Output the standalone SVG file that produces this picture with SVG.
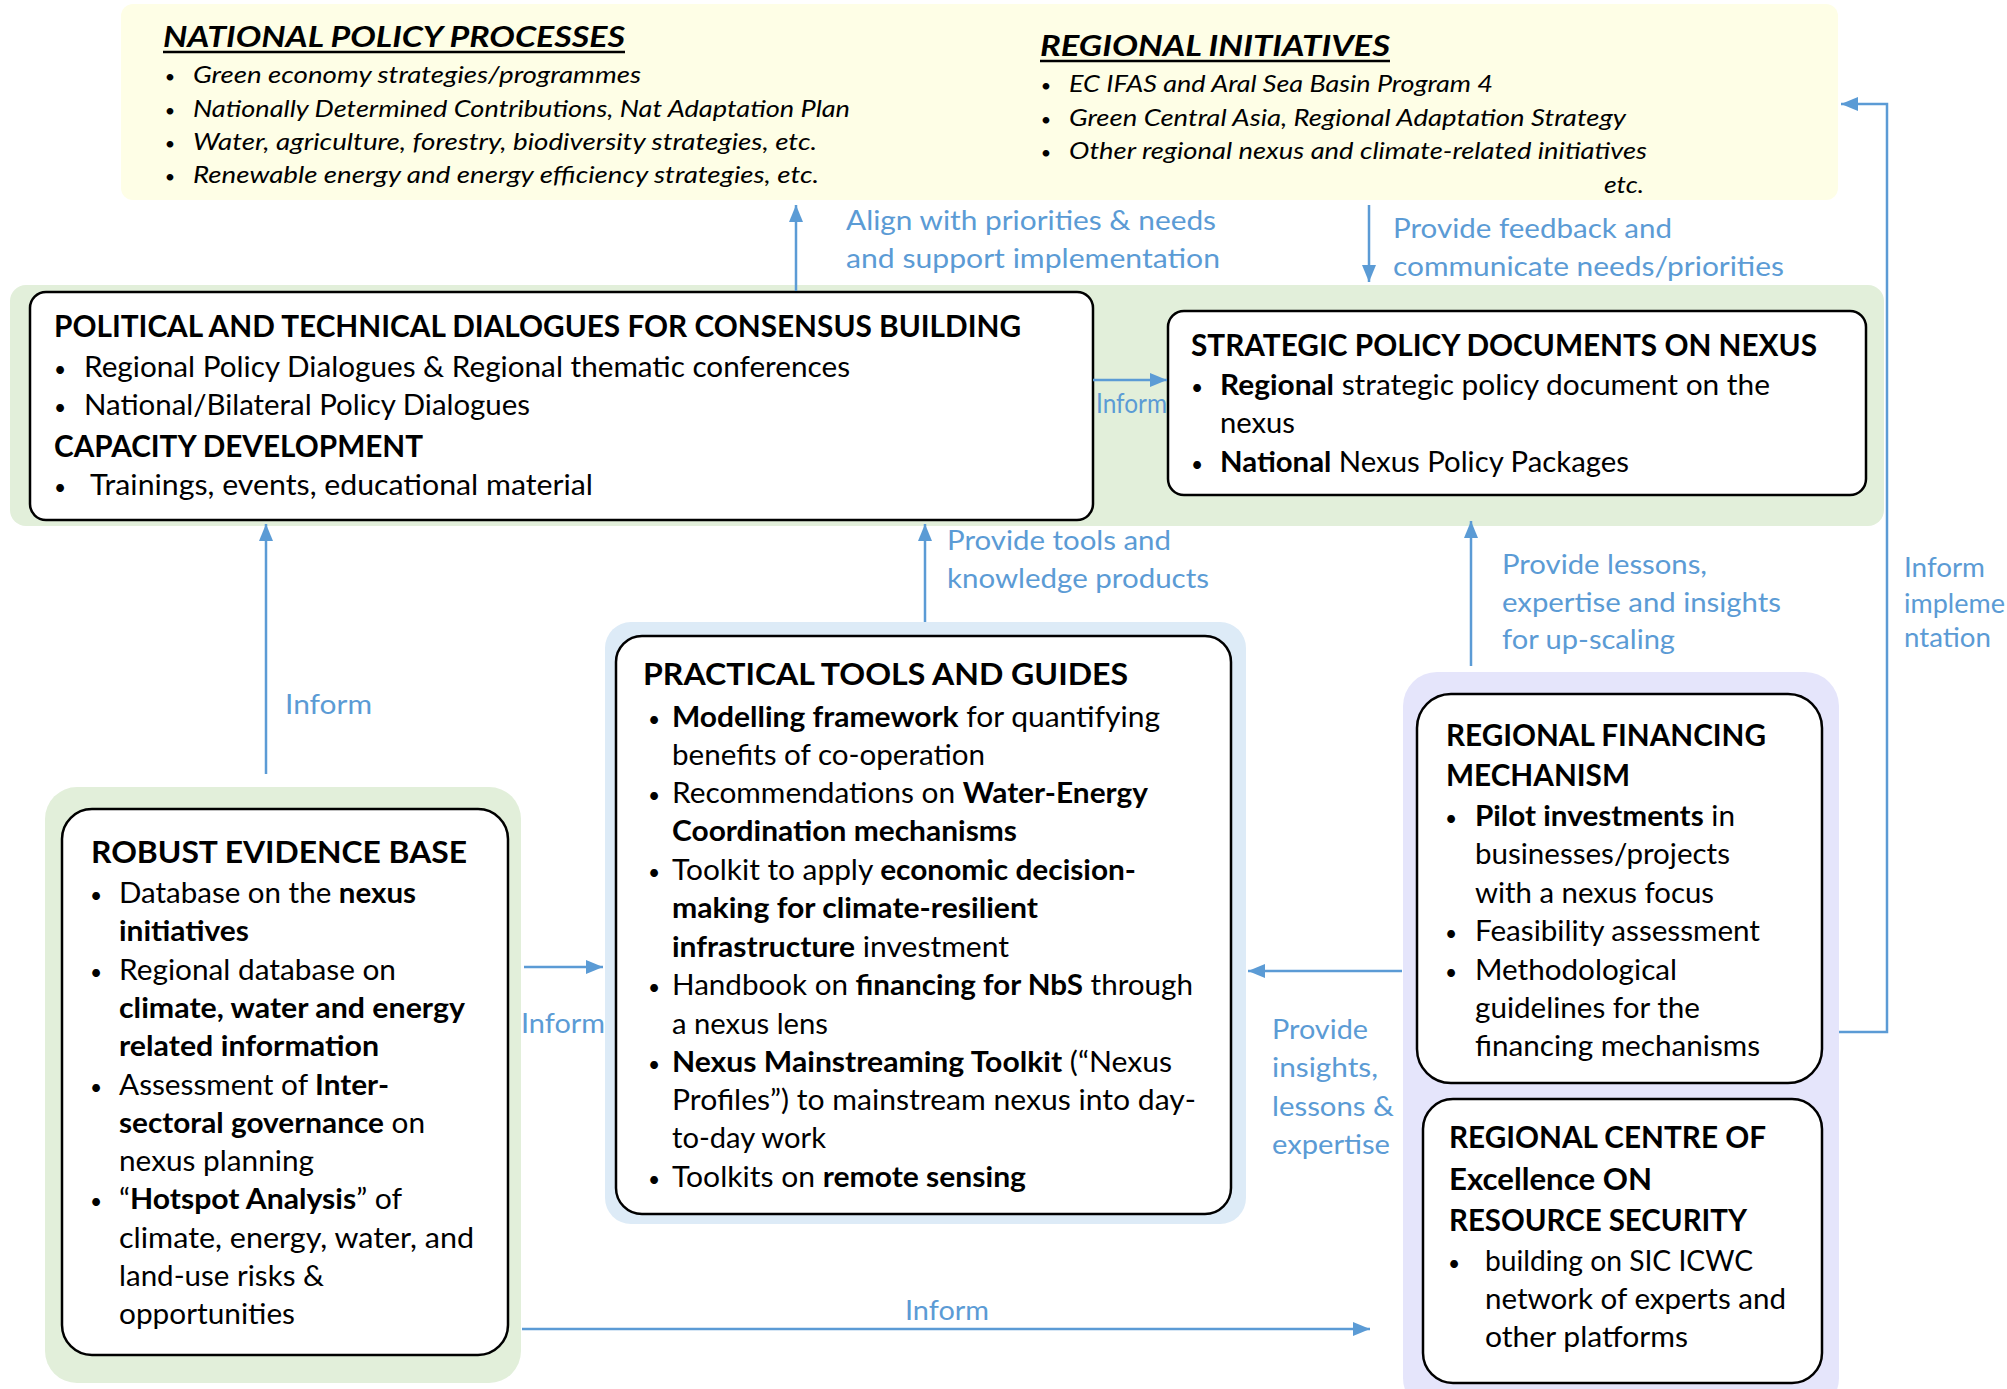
<svg xmlns="http://www.w3.org/2000/svg" width="2007" height="1389" viewBox="0 0 2007 1389">
<defs>
<style>
text{font-family:Lato,"Open Sans","Liberation Sans",sans-serif;fill:#000}
.box{fill:#fff;stroke:#000;stroke-width:2.5}
.body{font-size:28px}
.ttl{font-size:30px;font-weight:700}
.b{font-weight:700}
.yt{font-size:29px;font-weight:700;font-style:italic}
.yi{font-size:24px;font-style:italic}
.lbl{fill:#5B9BD5;font-size:27px}
.bul{text-anchor:middle;font-size:21px;font-style:normal}
.ybul{text-anchor:middle;font-size:18px}
.conn{stroke:#5B9BD5;stroke-width:2.5;fill:none;marker-end:url(#ah)}
.ul{stroke:#000;stroke-width:2.5}
</style>
<marker id="ah" markerUnits="userSpaceOnUse" markerWidth="18" markerHeight="14" refX="17" refY="7" orient="auto">
<path d="M0,0 L17,7 L0,14 z" fill="#5B9BD5"/>
</marker>
</defs>
<rect width="2007" height="1389" fill="#fff"/>

<g id="policy-context">
<rect x="121" y="4" width="1717" height="196" rx="12" fill="#FEFEE6"/>
<text class="yt" x="163" y="47" textLength="462" lengthAdjust="spacingAndGlyphs">NATIONAL POLICY PROCESSES</text>
<line class="ul" x1="163" y1="52" x2="625" y2="52"/>
<text class="ybul" x="170" y="83">•</text>
<text class="yi" x="193" y="83" textLength="448" lengthAdjust="spacingAndGlyphs">Green economy strategies/programmes</text>
<text class="ybul" x="170" y="117">•</text>
<text class="yi" x="193" y="117" textLength="657" lengthAdjust="spacingAndGlyphs">Nationally Determined Contributions, Nat Adaptation Plan</text>
<text class="ybul" x="170" y="150">•</text>
<text class="yi" x="193" y="150" textLength="624" lengthAdjust="spacingAndGlyphs">Water, agriculture, forestry, biodiversity strategies, etc.</text>
<text class="ybul" x="170" y="183">•</text>
<text class="yi" x="193" y="183" textLength="626" lengthAdjust="spacingAndGlyphs">Renewable energy and energy efficiency strategies, etc.</text>
<text class="yt" x="1040" y="56" textLength="350" lengthAdjust="spacingAndGlyphs">REGIONAL INITIATIVES</text>
<line class="ul" x1="1040" y1="61" x2="1390" y2="61"/>
<text class="ybul" x="1046" y="92">•</text>
<text class="yi" x="1069" y="92" textLength="424" lengthAdjust="spacingAndGlyphs">EC IFAS and Aral Sea Basin Program 4</text>
<text class="ybul" x="1046" y="126">•</text>
<text class="yi" x="1069" y="126" textLength="557" lengthAdjust="spacingAndGlyphs">Green Central Asia, Regional Adaptation Strategy</text>
<text class="ybul" x="1046" y="159">•</text>
<text class="yi" x="1069" y="159" textLength="578" lengthAdjust="spacingAndGlyphs">Other regional nexus and climate-related initiatives</text>
<text class="yi" x="1604" y="193" textLength="40" lengthAdjust="spacingAndGlyphs">etc.</text>
</g>

<g id="dialogue-band">
<rect x="10" y="285" width="1874" height="241" rx="16" fill="#E2EFDA"/>
</g>

<g id="political-dialogues">
<rect class="box" x="30" y="292" width="1063" height="228" rx="16"/>
<text class="ttl" x="54" y="337" textLength="967" lengthAdjust="spacingAndGlyphs">POLITICAL AND TECHNICAL DIALOGUES FOR CONSENSUS BUILDING</text>
<text class="bul" x="60" y="377">•</text>
<text class="body" x="84" y="377" textLength="766" lengthAdjust="spacingAndGlyphs">Regional Policy Dialogues &amp; Regional thematic conferences</text>
<text class="bul" x="60" y="415">•</text>
<text class="body" x="84" y="415" textLength="446" lengthAdjust="spacingAndGlyphs">National/Bilateral Policy Dialogues</text>
<text class="ttl" x="54" y="457" textLength="369" lengthAdjust="spacingAndGlyphs">CAPACITY DEVELOPMENT</text>
<text class="bul" x="60" y="495">•</text>
<text class="body" x="90" y="495" textLength="503" lengthAdjust="spacingAndGlyphs">Trainings, events, educational material</text>
</g>

<g id="strategic-documents">
<rect class="box" x="1168" y="311" width="698" height="184" rx="16"/>
<text class="ttl" x="1191" y="356" textLength="626" lengthAdjust="spacingAndGlyphs">STRATEGIC POLICY DOCUMENTS ON NEXUS</text>
<text class="bul" x="1197" y="395">•</text>
<text class="body" x="1220" y="395" textLength="550" lengthAdjust="spacingAndGlyphs"><tspan class="b">Regional</tspan> strategic policy document on the</text>
<text class="body" x="1220" y="433" textLength="75" lengthAdjust="spacingAndGlyphs">nexus</text>
<text class="bul" x="1197" y="472">•</text>
<text class="body" x="1220" y="472" textLength="409" lengthAdjust="spacingAndGlyphs"><tspan class="b">National</tspan> Nexus Policy Packages</text>
</g>

<g id="practical-tools">
<rect x="605" y="622" width="641" height="602" rx="26" fill="#DDEBF7"/>
<rect class="box" x="616" y="636" width="615" height="578" rx="26"/>
<text class="ttl" x="643" y="685" textLength="485" lengthAdjust="spacingAndGlyphs">PRACTICAL TOOLS AND GUIDES</text>
<text class="bul" x="654" y="727">•</text>
<text class="body" x="672" y="727" textLength="488" lengthAdjust="spacingAndGlyphs"><tspan class="b">Modelling framework</tspan> for quantifying</text>
<text class="body" x="672" y="765" textLength="313" lengthAdjust="spacingAndGlyphs">benefits of co-operation</text>
<text class="bul" x="654" y="803">•</text>
<text class="body" x="672" y="803" textLength="476" lengthAdjust="spacingAndGlyphs">Recommendations on <tspan class="b">Water-Energy</tspan></text>
<text class="body b" x="672" y="841" textLength="345" lengthAdjust="spacingAndGlyphs">Coordination mechanisms</text>
<text class="bul" x="654" y="880">•</text>
<text class="body" x="672" y="880" textLength="464" lengthAdjust="spacingAndGlyphs">Toolkit to apply <tspan class="b">economic decision-</tspan></text>
<text class="body b" x="672" y="918" textLength="366" lengthAdjust="spacingAndGlyphs">making for climate-resilient</text>
<text class="body" x="672" y="957" textLength="337" lengthAdjust="spacingAndGlyphs"><tspan class="b">infrastructure</tspan> investment</text>
<text class="bul" x="654" y="995">•</text>
<text class="body" x="672" y="995" textLength="521" lengthAdjust="spacingAndGlyphs">Handbook on <tspan class="b">financing for NbS</tspan> through</text>
<text class="body" x="672" y="1034" textLength="156" lengthAdjust="spacingAndGlyphs">a nexus lens</text>
<text class="bul" x="654" y="1072">•</text>
<text class="body" x="672" y="1072" textLength="500" lengthAdjust="spacingAndGlyphs"><tspan class="b">Nexus Mainstreaming Toolkit</tspan> (“Nexus</text>
<text class="body" x="672" y="1110" textLength="524" lengthAdjust="spacingAndGlyphs">Profiles”) to mainstream nexus into day-</text>
<text class="body" x="672" y="1148" textLength="154" lengthAdjust="spacingAndGlyphs">to-day work</text>
<text class="bul" x="654" y="1187">•</text>
<text class="body" x="672" y="1187" textLength="354" lengthAdjust="spacingAndGlyphs">Toolkits on <tspan class="b">remote sensing</tspan></text>
</g>

<g id="evidence-base">
<rect x="45" y="787" width="476" height="596" rx="32" fill="#E2EFDA"/>
<rect class="box" x="62" y="809" width="446" height="546" rx="30"/>
<text class="ttl" x="91" y="863" textLength="376" lengthAdjust="spacingAndGlyphs">ROBUST EVIDENCE BASE</text>
<text class="bul" x="96" y="903">•</text>
<text class="body" x="119" y="903" textLength="297" lengthAdjust="spacingAndGlyphs">Database on the <tspan class="b">nexus</tspan></text>
<text class="body b" x="119" y="941" textLength="130" lengthAdjust="spacingAndGlyphs">initiatives</text>
<text class="bul" x="96" y="980">•</text>
<text class="body" x="119" y="980" textLength="277" lengthAdjust="spacingAndGlyphs">Regional database on</text>
<text class="body b" x="119" y="1018" textLength="346" lengthAdjust="spacingAndGlyphs">climate, water and energy</text>
<text class="body b" x="119" y="1056" textLength="260" lengthAdjust="spacingAndGlyphs">related information</text>
<text class="bul" x="96" y="1095">•</text>
<text class="body" x="119" y="1095" textLength="270" lengthAdjust="spacingAndGlyphs">Assessment of <tspan class="b">Inter-</tspan></text>
<text class="body" x="119" y="1133" textLength="306" lengthAdjust="spacingAndGlyphs"><tspan class="b">sectoral governance</tspan> on</text>
<text class="body" x="119" y="1171" textLength="195" lengthAdjust="spacingAndGlyphs">nexus planning</text>
<text class="bul" x="96" y="1209">•</text>
<text class="body" x="119" y="1209" textLength="283" lengthAdjust="spacingAndGlyphs">“<tspan class="b">Hotspot Analysis</tspan>” of</text>
<text class="body" x="119" y="1248" textLength="355" lengthAdjust="spacingAndGlyphs">climate, energy, water, and</text>
<text class="body" x="119" y="1286" textLength="205" lengthAdjust="spacingAndGlyphs">land-use risks &amp;</text>
<text class="body" x="119" y="1324" textLength="176" lengthAdjust="spacingAndGlyphs">opportunities</text>
</g>

<g id="regional-mechanisms">
<rect x="1403" y="672" width="436" height="740" rx="34" fill="#E5E5FB"/>
</g>

<g id="financing-mechanism">
<rect class="box" x="1417" y="694" width="405" height="389" rx="34"/>
<text class="ttl" x="1446" y="746" textLength="320" lengthAdjust="spacingAndGlyphs">REGIONAL FINANCING</text>
<text class="ttl" x="1446" y="786" textLength="184" lengthAdjust="spacingAndGlyphs">MECHANISM</text>
<text class="bul" x="1451" y="826">•</text>
<text class="body" x="1475" y="826" textLength="260" lengthAdjust="spacingAndGlyphs"><tspan class="b">Pilot investments</tspan> in</text>
<text class="body" x="1475" y="864" textLength="255" lengthAdjust="spacingAndGlyphs">businesses/projects</text>
<text class="body" x="1475" y="903" textLength="239" lengthAdjust="spacingAndGlyphs">with a nexus focus</text>
<text class="bul" x="1451" y="941">•</text>
<text class="body" x="1475" y="941" textLength="285" lengthAdjust="spacingAndGlyphs">Feasibility assessment</text>
<text class="bul" x="1451" y="980">•</text>
<text class="body" x="1475" y="980" textLength="202" lengthAdjust="spacingAndGlyphs">Methodological</text>
<text class="body" x="1475" y="1018" textLength="225" lengthAdjust="spacingAndGlyphs">guidelines for the</text>
<text class="body" x="1475" y="1056" textLength="285" lengthAdjust="spacingAndGlyphs">financing mechanisms</text>
</g>

<g id="centre-of-excellence">
<rect class="box" x="1423" y="1099" width="399" height="284" rx="30"/>
<text class="ttl" x="1449" y="1148" textLength="317" lengthAdjust="spacingAndGlyphs">REGIONAL CENTRE OF</text>
<text class="ttl" x="1449" y="1190" textLength="203" lengthAdjust="spacingAndGlyphs">Excellence ON</text>
<text class="ttl" x="1449" y="1231" textLength="298" lengthAdjust="spacingAndGlyphs">RESOURCE SECURITY</text>
<text class="bul" x="1454" y="1271">•</text>
<text class="body" x="1485" y="1271" textLength="268" lengthAdjust="spacingAndGlyphs">building on SIC ICWC</text>
<text class="body" x="1485" y="1309" textLength="301" lengthAdjust="spacingAndGlyphs">network of experts and</text>
<text class="body" x="1485" y="1347" textLength="203" lengthAdjust="spacingAndGlyphs">other platforms</text>
</g>

<g id="connectors">
<line class="conn" x1="796" y1="291" x2="796" y2="205"/>
<line class="conn" x1="1369" y1="205" x2="1369" y2="282"/>
<line class="conn" x1="1093" y1="380" x2="1167" y2="380"/>
<line class="conn" x1="266" y1="774" x2="266" y2="524"/>
<line class="conn" x1="925" y1="622" x2="925" y2="524"/>
<line class="conn" x1="1471" y1="666" x2="1471" y2="521"/>
<line class="conn" x1="524" y1="967" x2="603" y2="967"/>
<line class="conn" x1="1402" y1="971" x2="1248" y2="971"/>
<line class="conn" x1="522" y1="1329" x2="1370" y2="1329"/>
<path class="conn" d="M1839,1032 H1887 V104 H1841"/>
<text class="lbl" x="846" y="230" textLength="370" lengthAdjust="spacingAndGlyphs">Align with priorities &amp; needs</text>
<text class="lbl" x="846" y="268" textLength="374" lengthAdjust="spacingAndGlyphs">and support implementation</text>
<text class="lbl" x="1393" y="238" textLength="279" lengthAdjust="spacingAndGlyphs">Provide feedback and</text>
<text class="lbl" x="1393" y="276" textLength="391" lengthAdjust="spacingAndGlyphs">communicate needs/priorities</text>
<text class="lbl" x="1096" y="413" font-size="23" textLength="71" lengthAdjust="spacingAndGlyphs">Inform</text>
<text class="lbl" x="947" y="550" textLength="224" lengthAdjust="spacingAndGlyphs">Provide tools and</text>
<text class="lbl" x="947" y="588" textLength="262" lengthAdjust="spacingAndGlyphs">knowledge products</text>
<text class="lbl" x="1502" y="574" textLength="205" lengthAdjust="spacingAndGlyphs">Provide lessons,</text>
<text class="lbl" x="1502" y="612" textLength="279" lengthAdjust="spacingAndGlyphs">expertise and insights</text>
<text class="lbl" x="1502" y="649" textLength="173" lengthAdjust="spacingAndGlyphs">for up-scaling</text>
<text class="lbl" x="1904" y="577" textLength="81" lengthAdjust="spacingAndGlyphs">Inform</text>
<text class="lbl" x="1904" y="613">impleme</text>
<text class="lbl" x="1904" y="647" textLength="87" lengthAdjust="spacingAndGlyphs">ntation</text>
<text class="lbl" x="285" y="714" textLength="87" lengthAdjust="spacingAndGlyphs">Inform</text>
<text class="lbl" x="521" y="1033" textLength="84" lengthAdjust="spacingAndGlyphs">Inform</text>
<text class="lbl" x="1272" y="1039" textLength="96" lengthAdjust="spacingAndGlyphs">Provide</text>
<text class="lbl" x="1272" y="1077" textLength="106" lengthAdjust="spacingAndGlyphs">insights,</text>
<text class="lbl" x="1272" y="1116" textLength="122" lengthAdjust="spacingAndGlyphs">lessons &amp;</text>
<text class="lbl" x="1272" y="1154" textLength="118" lengthAdjust="spacingAndGlyphs">expertise</text>
<text class="lbl" x="905" y="1320" textLength="84" lengthAdjust="spacingAndGlyphs">Inform</text>
</g>
</svg>
